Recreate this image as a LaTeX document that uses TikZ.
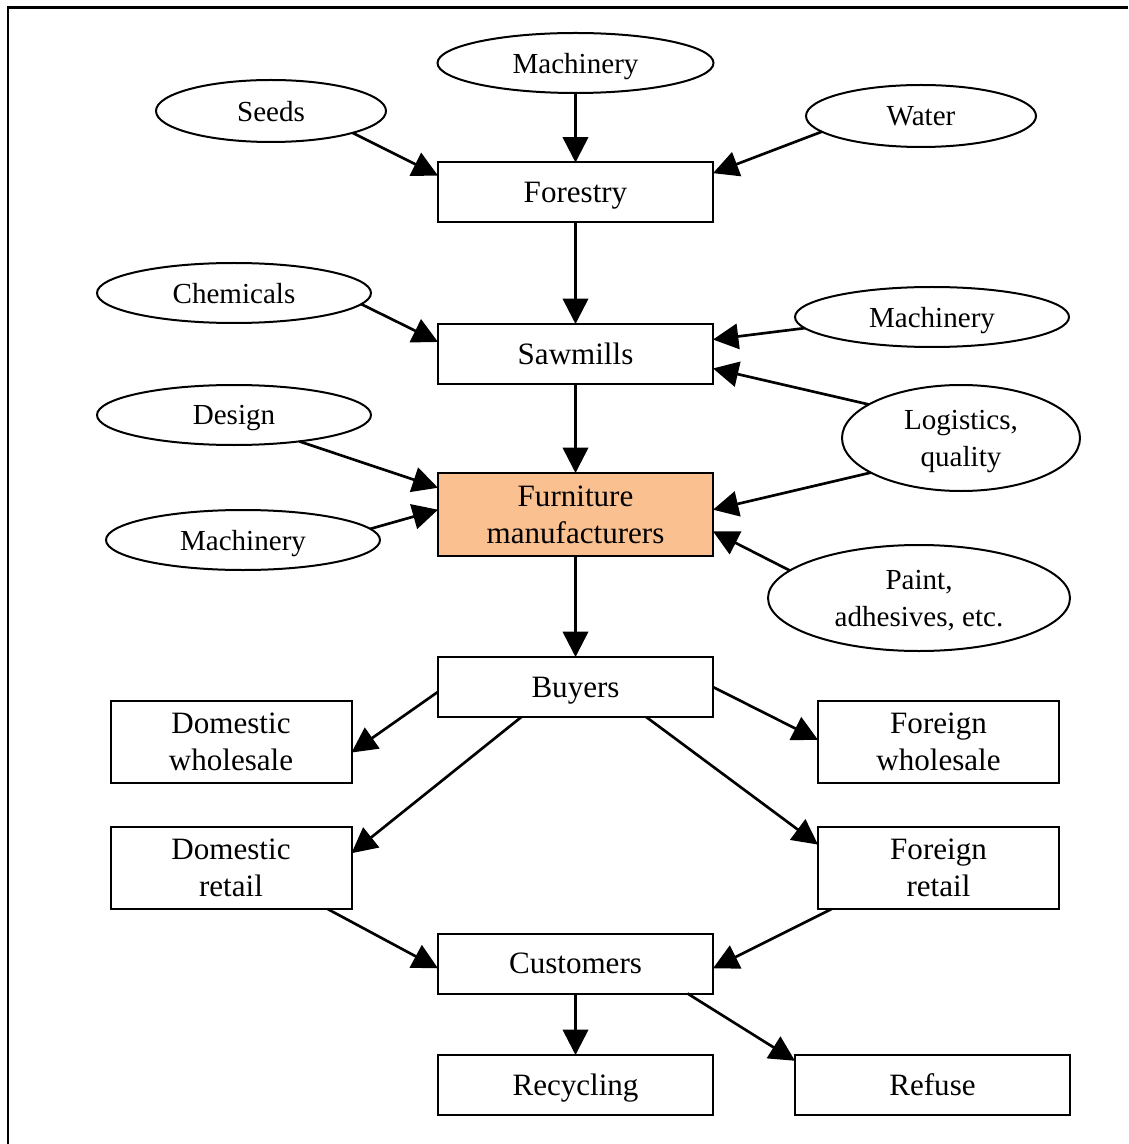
\documentclass[tikz,border=0pt]{standalone}
\usepackage{fontspec}
\setmainfont{Liberation Serif}
\usetikzlibrary{shapes.geometric,arrows.meta}
\definecolor{furnfill}{RGB}{250,192,144}
\begin{document}
\begin{tikzpicture}[x=0.75pt,y=-0.75pt,
  box/.style={draw,line width=1.5pt,rectangle,minimum width=206.25pt,minimum height=45pt,inner sep=0pt,outer sep=0pt,align=center,text depth=0pt,font=\fontsize{23.3}{27.75}\selectfont},
  sidebox/.style={box,minimum width=180.75pt,minimum height=61.5pt},
  oval/.style={draw,line width=1.5pt,ellipse,inner sep=0pt,outer sep=0pt,align=center,text depth=0pt,font=\fontsize{21.8}{27.75}\selectfont},
  link/.style={line width=2pt,-{Triangle[length=19pt,width=19pt]}}]
\useasboundingbox (0,0) rectangle (1128,1144);
% frame
\draw[line width=2pt] (8,1144) -- (8,7.5) -- (1128,7.5);

% ellipses
\node[oval,minimum width=207pt,minimum height=45pt] (mach1) at (575.5,63) {Machinery};
\node[oval,minimum width=172.5pt,minimum height=46.5pt] (seeds) at (271,111) {Seeds};
\node[oval,minimum width=172.5pt,minimum height=46.5pt] (water) at (921,116) {Water};
\node[oval,minimum width=205.5pt,minimum height=45pt] (chem) at (234,293) {Chemicals};
\node[oval,minimum width=205.5pt,minimum height=45pt] (mach2) at (932,317) {Machinery};
\node[oval,minimum width=205.5pt,minimum height=45pt] (design) at (234,415) {Design};
\node[oval,minimum width=178.5pt,minimum height=79.5pt] (logi) at (961,438) {Logistics,\\quality};
\node[oval,minimum width=205.5pt,minimum height=45pt] (mach3) at (243,540) {Machinery};
\node[oval,minimum width=226.5pt,minimum height=79.5pt] (paint) at (919,598) {Paint,\\adhesives, etc.};

% boxes
\node[box] (forestry) at (575.5,192.5) {Forestry};
\node[box] (sawmills) at (575.5,354) {Sawmills};
\node[box,fill=furnfill,minimum height=62.25pt] (furn) at (575.5,514.5) {Furniture\\manufacturers};
\node[box] (buyers) at (575.5,687) {Buyers};
\node[sidebox] (dwh) at (231,742) {Domestic\\wholesale};
\node[sidebox] (fwh) at (938.5,742) {Foreign\\wholesale};
\node[sidebox] (dret) at (231,868) {Domestic\\retail};
\node[sidebox] (fret) at (938.5,868) {Foreign\\retail};
\node[box] (cust) at (575.5,963.5) {Customers};
\node[box] (recyc) at (575.5,1085) {Recycling};
\node[box] (refuse) at (932.5,1085) {Refuse};

% connectors
\draw[link] (mach1) -- (forestry);
\draw[link] (seeds.-15) -- (forestry.173);
\draw[link] (water.189) -- (forestry.8);
\draw[link] (forestry) -- (sawmills);
\draw[link] (chem.-5) -- (sawmills.175);
\draw[link] (mach2.185) -- (sawmills.6);
\draw[link] (logi.160) -- (sawmills.-6);
\draw[link] (sawmills) -- (furn);
\draw[link] (design.-22) -- (furn.169);
\draw[link] (mach3.5) -- (furn.178);
\draw[link] (logi.201) -- (furn.2);
\draw[link] (paint.168) -- (furn.-7);
\draw[link] (furn) -- (buyers);
\draw[link] (buyers.182) -- (dwh.-5);
\draw[link] (buyers.east) -- (fwh.179);
\draw[link] (buyers.209) -- (dret.7);
\draw[link] (buyers.-23) -- (fret.169);
\draw[link] (dret.-23) -- (cust.182);
\draw[link] (fret.201) -- (cust.-2);
\draw[link] (cust) -- (recyc);
\draw[link] (cust.-15) -- (refuse.170);
\end{tikzpicture}
\end{document}
